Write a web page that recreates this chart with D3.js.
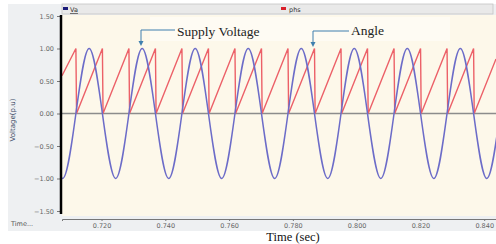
<!DOCTYPE html>
<html>
<head>
<meta charset="utf-8">
<script src="https://cdn.jsdelivr.net/npm/d3@7/dist/d3.min.js"></script>
<style>
  body { margin: 0; background: #fff; }
  svg { display: block; }
  .tick text { font-family: "DejaVu Sans", sans-serif; font-size: 6.5px; fill: #666; }
</style>
</head>
<body>
<svg width="496" height="244"></svg>
<script>
// Va: quarter-period points (troughs, zeros, peaks)
var vaTime = [0.70364, 0.70780, 0.71196, 0.71611, 0.72027, 0.72443, 0.72859, 0.73274, 0.73690,
  0.74106, 0.74521, 0.74937, 0.75353, 0.75768, 0.76184, 0.76600, 0.77016, 0.77431, 0.77847,
  0.78263, 0.78678, 0.79094, 0.79510, 0.79925, 0.80341, 0.80757, 0.81173, 0.81588, 0.82004,
  0.82420, 0.82835, 0.83251, 0.83667, 0.84082, 0.84498]
var vaValue = [0, -1, 0, 1, 0, -1, 0, 1, 0,
  -1, 0, 1, 0, -1, 0, 1, 0, -1, 0,
  1, 0, -1, 0, 1, 0, -1, 0, 1, 0,
  -1, 0, 1, 0, -1, 0]

// phs: sawtooth, resets to 0 at every zero crossing of Va
var phsTime = [0.7076, 0.71196, 0.71216, 0.72027, 0.72047, 0.72859, 0.72879, 0.73690, 0.73710,
  0.74521, 0.74541, 0.75353, 0.75373, 0.76184, 0.76204, 0.77016, 0.77036, 0.77847, 0.77867,
  0.78678, 0.78698, 0.79510, 0.79530, 0.80341, 0.80361, 0.81173, 0.81193, 0.82004, 0.82024,
  0.82835, 0.82855, 0.83667, 0.83687, 0.8437]
var phsValue = [0.58, 1, 0, 1, 0, 1, 0, 1, 0,
  1, 0, 1, 0, 1, 0, 1, 0, 1, 0,
  1, 0, 1, 0, 1, 0, 1, 0, 1, 0,
  1, 0, 1, 0, 0.84]

var xTicks = [0.720, 0.740, 0.760, 0.780, 0.800, 0.820, 0.840]
var yTicks = [-1.5, -1.0, -0.5, 0, 0.5, 1.0, 1.5]

var svg = d3.select('svg')

// panel background
svg.append('rect').attr('x', 8).attr('y', 4).attr('width', 488).attr('height', 227).attr('fill', '#eef0f2')

var x = d3.scaleLinear().domain([0.7076, 0.8437]).range([62, 496])
var y = d3.scaleLinear().domain([-1.5, 1.5]).range([211, 16])

// plot area
svg.append('rect').attr('x', 62).attr('y', 15).attr('width', 434).attr('height', 201).attr('fill', '#fdf8ea')
svg.append('rect').attr('x', 150).attr('y', 17).attr('width', 300).attr('height', 24).attr('fill', '#fff').attr('opacity', 0.45)

svg.append('clipPath').attr('id', 'clip')
  .append('rect').attr('x', 62).attr('y', 15).attr('width', 434).attr('height', 201)

// legend bar
svg.append('rect').attr('x', 62).attr('y', 4).attr('width', 431).attr('height', 10)
  .attr('fill', '#e9e9e9').attr('stroke', '#c4c4c4').attr('stroke-width', 0.8)
svg.append('rect').attr('x', 63).attr('y', 7).attr('width', 5).attr('height', 3).attr('fill', '#1c1c7a')
svg.append('text').attr('x', 70).attr('y', 12).text('Va')
  .style('font-family', 'DejaVu Sans, sans-serif').style('font-size', '6.5px').style('fill', '#333')
  .style('text-decoration', 'underline')
svg.append('rect').attr('x', 281).attr('y', 7).attr('width', 5).attr('height', 3).attr('fill', '#d9202a')
svg.append('text').attr('x', 289).attr('y', 12).text('phs')
  .style('font-family', 'DejaVu Sans, sans-serif').style('font-size', '6.5px').style('fill', '#333')

// zero line
svg.append('line').attr('x1', 62).attr('x2', 496).attr('y1', y(0)).attr('y2', y(0))
  .attr('stroke', '#8c8c8c').attr('stroke-width', 1.5)

var plot = svg.append('g').attr('clip-path', 'url(#clip)')

var va = vaTime.map(function(t, i){ return [t, vaValue[i]] })
var phs = phsTime.map(function(t, i){ return [t, phsValue[i]] })

var line = d3.line()
  .x(function(d){ return x(d[0]) })
  .y(function(d){ return y(d[1]) })

plot.append('path').datum(phs)
  .attr('d', line)
  .attr('fill', 'none').attr('stroke', '#ec6068').attr('stroke-width', 1.4)

plot.append('path').datum(va)
  .attr('d', line.curve(d3.curveNatural))
  .attr('fill', 'none').attr('stroke', '#6c6cc8').attr('stroke-width', 1.5)

// y axis
var yAxis = svg.append('g').attr('transform', 'translate(60,0)')
  .call(d3.axisLeft(y).tickValues(yTicks).tickSize(3).tickPadding(3).tickFormat(d3.format('.2f')))
yAxis.select('.domain').remove()
yAxis.selectAll('.tick line').attr('stroke', '#777')
svg.append('line').attr('x1', 61).attr('x2', 61).attr('y1', 15).attr('y2', 214)
  .attr('stroke', '#000').attr('stroke-width', 2.5)

svg.append('text')
  .attr('transform', 'translate(15,120) rotate(-90)')
  .attr('text-anchor', 'middle')
  .text('Voltage(p.u)')
  .style('font-family', 'DejaVu Sans, sans-serif').style('font-size', '7px').style('fill', '#3c4a66')

// x axis
var xAxis = svg.append('g').attr('transform', 'translate(0,219)')
  .call(d3.axisBottom(x).tickValues(xTicks).tickSize(2).tickPadding(2).tickFormat(d3.format('.3f')))
xAxis.select('.domain').attr('stroke', '#777')
xAxis.selectAll('.tick line').attr('stroke', '#777')

svg.append('text').attr('x', 11).attr('y', 226).text('Time...')
  .style('font-family', 'DejaVu Sans, sans-serif').style('font-size', '6.5px').style('fill', '#555')

svg.append('text').attr('x', 293).attr('y', 240.5).attr('text-anchor', 'middle').text('Time (sec)')
  .style('font-family', 'Liberation Serif, serif').style('font-size', '12.5px').style('fill', '#111')

// annotations
function annotate (tx, lx, ly, label, ty) {
  svg.append('path')
    .attr('d', 'M' + (tx - 2) + ',' + ly + ' H' + lx + ' V' + (ly + 12))
    .attr('fill', 'none').attr('stroke', '#3f7fae').attr('stroke-width', 1)
  svg.append('path')
    .attr('d', 'M' + (lx - 2.5) + ',' + (ly + 11) + ' L' + (lx + 2.5) + ',' + (ly + 11) + ' L' + lx + ',' + (ly + 16) + ' Z')
    .attr('fill', '#3f7fae')
  svg.append('text').attr('x', tx).attr('y', ty).text(label)
    .style('font-family', 'Liberation Serif, serif').style('font-size', '13.5px').style('fill', '#222')
}
annotate(177, 141, 30, 'Supply Voltage', 36)
annotate(351, 313, 31, 'Angle', 35)
</script>
</body>
</html>
